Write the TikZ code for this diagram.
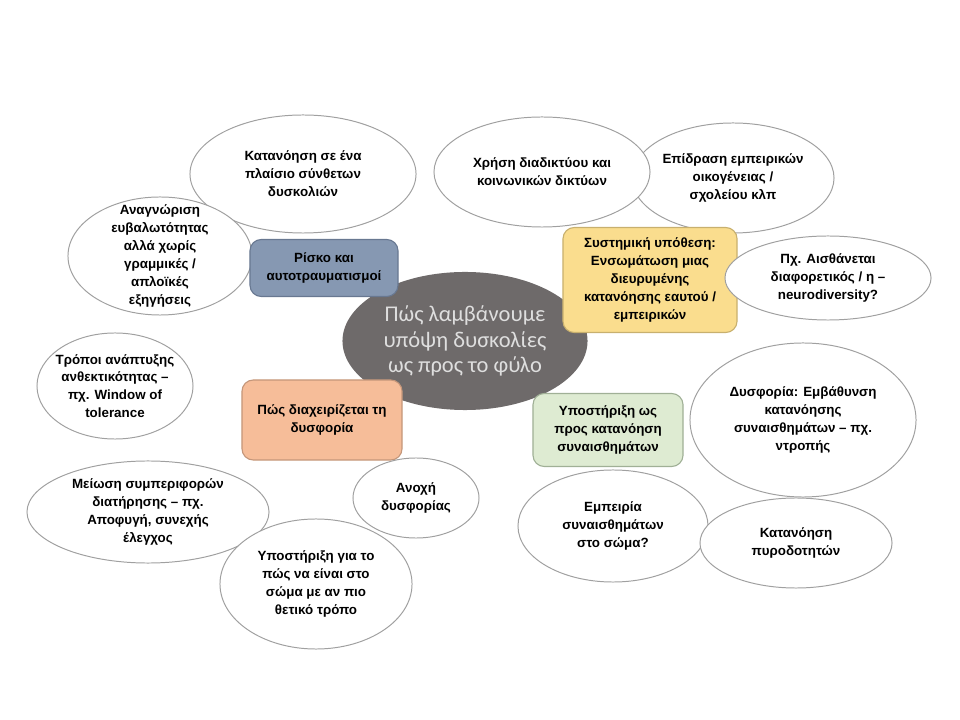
\documentclass[tikz,border=0pt]{standalone}
\usepackage{fontspec}
\setmainfont{Liberation Sans}
\newfontfamily\hubfont{Carlito}
\usepackage{xcolor}
\usepackage{tikz}
\usetikzlibrary{shapes.geometric, positioning}

\definecolor{hubgray}{RGB}{110,106,106}
\definecolor{hubtext}{RGB}{222,222,222}
\definecolor{rimgray}{RGB}{160,160,160}
\definecolor{riskblue}{RGB}{134,152,178}
\definecolor{riskrim}{RGB}{104,120,145}
\definecolor{sysyellow}{RGB}{250,221,142}
\definecolor{sysrim}{RGB}{200,176,110}
\definecolor{dysorange}{RGB}{246,189,153}
\definecolor{dysrim}{RGB}{196,150,122}
\definecolor{emogreen}{RGB}{222,235,210}
\definecolor{emorim}{RGB}{160,176,150}

\begin{document}
\begin{tikzpicture}[x=0.025cm, y=-0.025cm]

    % Define style for shapes
    \tikzstyle{hub} = [ellipse, minimum width=6.125cm, minimum height=3.45cm, inner sep=-0.5cm, align=center, fill=hubgray, text=hubtext, font=\hubfont\fontsize{16}{18}\selectfont]
    \tikzstyle{bubble} = [ellipse, inner sep=-0.5cm, align=center, draw=rimgray, line width=0.7pt, fill=white, font=\bfseries\fontsize{9.5}{12.7}\selectfont]
    \tikzstyle{topic} = [rectangle, rounded corners=8pt, align=center, line width=0.8pt, font=\bfseries\fontsize{9.5}{12.7}\selectfont]

    \useasboundingbox (0,0) rectangle (960,720);

    % Centre
    \node (hub) [hub] at (465,341) {Πώς λαμβάνουμε\\υπόψη δυσκολίες\\ως προς το φύλο};

    % Upper left
    \node (complex) [bubble, minimum width=5.65cm, minimum height=2.95cm] at (303,174) {Κατανόηση σε ένα\\πλαίσιο σύνθετων\\δυσκολιών};
    \node (vulner) [bubble, minimum width=4.6cm, minimum height=2.95cm] at (160,256) {Αναγνώριση\\ευβαλωτότητας\\αλλά χωρίς\\γραμμικές /\\απλοϊκές\\εξηγήσεις};
    \node (risk) [topic, fill=riskblue, draw=riskrim, minimum width=3.7cm, minimum height=1.425cm] at (324,268) {Ρίσκο και\\αυτοτραυματισμοί};

    % Upper right
    \node (family) [bubble, minimum width=5.05cm, minimum height=2.75cm] at (733,178) {Επίδραση εμπειρικών\\οικογένειας /\\σχολείου κλπ};
    \node (internet) [bubble, minimum width=5.4cm, minimum height=2.75cm] at (542,172) {Χρήση διαδικτύου και\\κοινωνικών δικτύων};
    \node (system) [topic, fill=sysyellow, draw=sysrim, minimum width=4.35cm, minimum height=2.625cm] at (650,280) {Συστημική υπόθεση:\\Ενσωμάτωση μιας\\διευρυμένης\\κατανόησης εαυτού /\\εμπειρικών};
    \node (neuro) [bubble, minimum width=5.15cm, minimum height=2.1cm] at (828,278) {Πχ. Αισθάνεται\\διαφορετικός / η –\\neurodiversity?};

    % Lower left
    \node (resil) [bubble, minimum width=3.9cm, minimum height=2.65cm] at (115,386) {Τρόποι ανάπτυξης\\ανθεκτικότητας –\\πχ. Window of\\tolerance};
    \node (manage) [topic, fill=dysorange, draw=dysrim, minimum width=4.0cm, minimum height=2.0cm] at (322,420) {Πώς διαχειρίζεται τη\\δυσφορία};
    \node (avoid) [bubble, minimum width=6.05cm, minimum height=2.55cm] at (148,512) {Μείωση συμπεριφορών\\διατήρησης – πχ.\\Αποφυγή, συνεχής\\έλεγχος};
    \node (toler) [bubble, minimum width=3.15cm, minimum height=2.0cm] at (416,498) {Ανοχή\\δυσφορίας};
    \node (body) [bubble, minimum width=4.8cm, minimum height=3.25cm] at (316,584) {Υποστήριξη για το\\πώς να είναι στο\\σώμα με αν πιο\\θετικό τρόπο};

    % Lower right
    \node (emotion) [topic, fill=emogreen, draw=emorim, minimum width=3.75cm, minimum height=1.825cm] at (608,430) {Υποστήριξη ως\\προς κατανόηση\\συναισθημάτων};
    \node (shame) [bubble, minimum width=5.65cm, minimum height=3.85cm] at (803,420) {Δυσφορία: Εμβάθυνση\\κατανόησης\\συναισθημάτων – πχ.\\ντροπής};
    \node (somatic) [bubble, minimum width=4.75cm, minimum height=2.8cm] at (613,526) {Εμπειρία\\συναισθημάτων\\στο σώμα?};
    \node (trigger) [bubble, minimum width=4.8cm, minimum height=2.25cm] at (796,543) {Κατανόηση\\πυροδοτητών};

\end{tikzpicture}
\end{document}
